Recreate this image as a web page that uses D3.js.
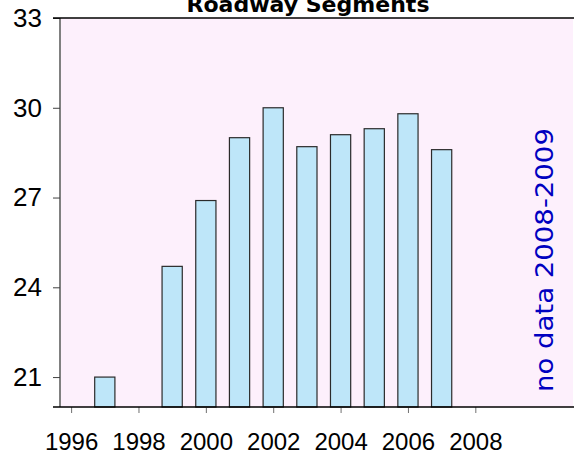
<!DOCTYPE html>
<html>
<head>
<meta charset="utf-8">
<script src="https://cdn.jsdelivr.net/npm/d3@7"></script>
<style>
  body { margin: 0; background: #ffffff; }
  svg { display: block; }
</style>
</head>
<body>
<svg id="chart"></svg>
<script>
const width = 574, height = 457;
const margin = {top: 18, right: 1, bottom: 50, left: 60};

// data
const years = [1997, 1999, 2000, 2001, 2002, 2003, 2004, 2005, 2006, 2007];
const values = [21.0, 24.7, 26.9, 29.0, 30.0, 28.7, 29.1, 29.3, 29.8, 28.6];
const yTicks = [21, 24, 27, 30, 33];
const xTicks = [1996, 1998, 2000, 2002, 2004, 2006, 2008];
const title = "Roadway Segments";
const note = "no data 2008-2009";

let svg = d3.select("#chart")
    .attr("width", width)
    .attr("height", height);

let x = d3.scaleLinear()
    .domain([1995.67, 2010.9])
    .range([margin.left, width - margin.right]);

let y = d3.scaleLinear()
    .domain([20, 33])
    .range([height - margin.bottom, margin.top]);

let barW = x(1996.6) - x(1996);

// plot background
svg.append("rect")
    .attr("x", x(1995.67))
    .attr("y", y(33))
    .attr("width", x(2010.9) - x(1995.67))
    .attr("height", y(20) - y(33))
    .style("fill", "#fdf0fc");

// bars
svg.selectAll(".bar")
    .data(years)
    .enter()
    .append("rect")
    .attr("class", "bar")
    .attr("x", (d) => x(d) - barW / 2)
    .attr("y", (d, i) => y(values[i]))
    .attr("width", barW)
    .attr("height", (d, i) => y(20) - y(values[i]))
    .style("fill", "#bee6f9")
    .style("stroke", "#2b2b2b")
    .style("stroke-width", 1.2);

// y axis
let y_axis = svg.append("g")
    .attr("transform", `translate(${margin.left},0)`)
    .call(d3.axisLeft(y).tickValues(yTicks).tickSize(7).tickPadding(11));

y_axis.select(".domain")
    .style("stroke", "#808080")
    .style("stroke-width", 2)
    .attr("d", `M0,${y(33)}V${y(20)}`);

y_axis.selectAll("line")
    .style("stroke", "#404040");

y_axis.selectAll("text")
    .style("font-family", "'Liberation Sans', Arial, sans-serif")
    .style("font-size", "26px")
    .style("fill", "#000");

// x axis
let x_axis = svg.append("g")
    .attr("transform", `translate(0,${y(20)})`)
    .call(d3.axisBottom(x).tickValues(xTicks).tickFormat(d3.format("d")).tickSize(6).tickPadding(20));

x_axis.select(".domain").remove();

x_axis.selectAll("line")
    .style("stroke", "#707070");

x_axis.selectAll("text")
    .style("font-family", "'Liberation Sans', Arial, sans-serif")
    .style("font-size", "24px")
    .style("fill", "#000");

// top and bottom frame lines
svg.append("line")
    .attr("x1", margin.left - 7).attr("x2", width)
    .attr("y1", y(33)).attr("y2", y(33))
    .style("stroke", "#000")
    .style("stroke-width", 1.5);

svg.append("line")
    .attr("x1", margin.left - 7).attr("x2", width)
    .attr("y1", y(20)).attr("y2", y(20))
    .style("stroke", "#000")
    .style("stroke-width", 1.5);

// title, top cut off like the original
svg.append("text")
    .attr("x", 308)
    .attr("y", 12)
    .attr("text-anchor", "middle")
    .attr("textLength", 243)
    .attr("lengthAdjust", "spacingAndGlyphs")
    .style("font-family", "'Comic Sans MS', 'DejaVu Sans', sans-serif")
    .style("font-weight", "bold")
    .style("font-size", "22px")
    .text(title);

// rotated note
svg.append("text")
    .attr("transform", `translate(${x(2010.3)},${y(24.91)}) rotate(-90)`)
    .attr("text-anchor", "middle")
    .attr("textLength", 264)
    .attr("lengthAdjust", "spacingAndGlyphs")
    .style("font-family", "'Comic Sans MS', 'DejaVu Sans', sans-serif")
    .style("font-size", "24px")
    .style("fill", "#0000c0")
    .text(note);
</script>
</body>
</html>
